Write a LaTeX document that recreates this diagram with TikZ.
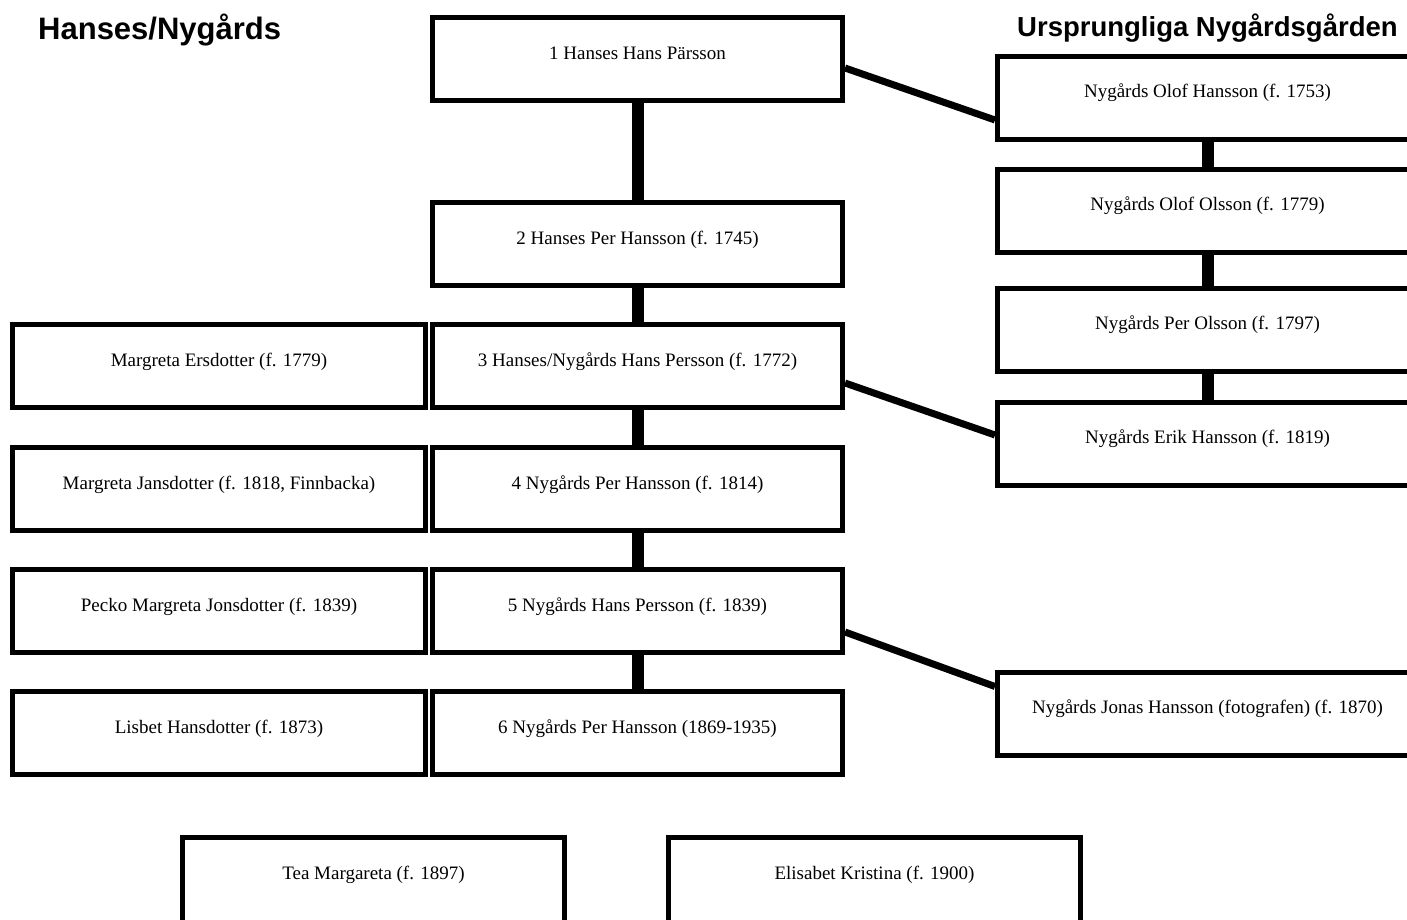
\documentclass[tikz,border=0pt]{standalone}
\usepackage{fontspec}
\setmainfont{Liberation Serif}
\newfontfamily\headfont{Liberation Sans}

\tikzset{
  person/.style={draw, line width=5pt, inner sep=0pt, text height=41.5pt, text depth=41.5pt,
    minimum width=410pt, font=\fontsize{19}{22}\selectfont},
  spouse/.style={person, minimum width=413pt},
  farm/.style={person, minimum width=420pt},
  child/.style={person, text depth=70pt},
  heading/.style={anchor=west, inner sep=0pt, font=\headfont\bfseries\fontsize{31}{36}\selectfont},
  stem/.style={line width=12pt},
  branch/.style={line width=7pt},
}

\begin{document}
\begin{tikzpicture}[x=1pt,y=-1pt]
\useasboundingbox (0,0) rectangle (1407,919);

% headings
\node[heading] (hanses) at (38,30) {Hanses/Nygårds};
\node[heading, font=\headfont\bfseries\fontsize{27.5}{32}\selectfont] (urspr) at (1017,28) {Ursprungliga Nygårdsgården};

% main line
\node[person] (g1) at (637.5,59) {1 Hanses Hans Pärsson};
\node[person] (g2) at (637.5,244) {2 Hanses Per Hansson (f. 1745)};
\node[person] (g3) at (637.5,366) {3 Hanses/Nygårds Hans Persson (f. 1772)};
\node[person] (g4) at (637.5,489) {4 Nygårds Per Hansson (f. 1814)};
\node[person] (g5) at (637.5,611) {5 Nygårds Hans Persson (f. 1839)};
\node[person] (g6) at (637.5,733) {6 Nygårds Per Hansson (1869-1935)};

% wives
\node[spouse] (w3) at (219,366) {Margreta Ersdotter (f. 1779)};
\node[spouse] (w4) at (219,489) {Margreta Jansdotter (f. 1818, Finnbacka)};
\node[spouse] (w5) at (219,611) {Pecko Margreta Jonsdotter (f. 1839)};
\node[spouse] (w6) at (219,733) {Lisbet Hansdotter (f. 1873)};

% the old farm
\node[farm] (ny1) at (1207.5,97.5) {Nygårds Olof Hansson (f. 1753)};
\node[farm] (ny2) at (1207.5,210.5) {Nygårds Olof Olsson (f. 1779)};
\node[farm] (ny3) at (1207.5,329.5) {Nygårds Per Olsson (f. 1797)};
\node[farm] (ny4) at (1207.5,443.5) {Nygårds Erik Hansson (f. 1819)};
\node[farm] (ny5) at (1207.5,713.5) {Nygårds Jonas Hansson (fotografen) (f. 1870)};

% children
\node[child, minimum width=382pt, anchor=base] (c1) at (373.5,879) {Tea Margareta (f. 1897)};
\node[child, minimum width=412pt, anchor=base] (c2) at (874.5,879) {Elisabet Kristina (f. 1900)};

% connectors
\foreach \a/\b in {g1/g2,g2/g3,g3/g4,g4/g5,g5/g6,ny1/ny2,ny2/ny3,ny3/ny4} {
    \draw[stem] (\a.south) -- (\b.north);
}
\draw[branch] ([yshift=-9pt]g1.east) -- ([yshift=-22.5pt]ny1.west);
\draw[branch] ([yshift=-17pt]g3.east) -- ([yshift=8.5pt]ny4.west);
\draw[branch] ([yshift=-21pt]g5.east) -- ([yshift=27pt]ny5.west);

\end{tikzpicture}
\end{document}
